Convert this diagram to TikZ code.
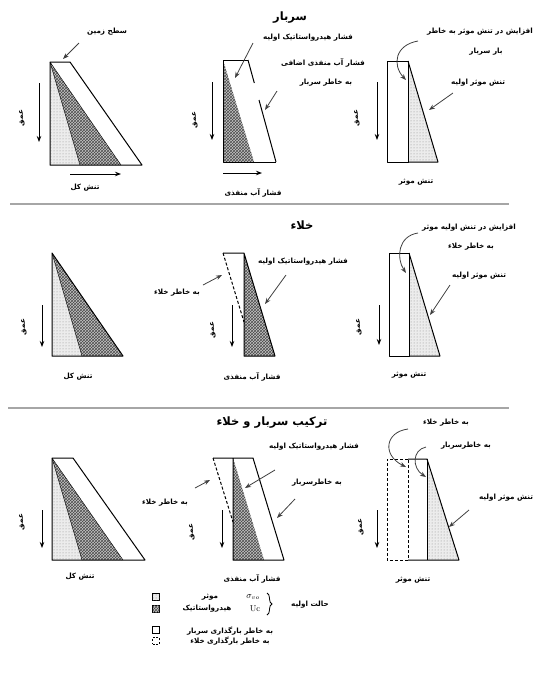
\documentclass[tikz,border=0pt]{standalone}
\usepackage{fontspec}
\newfontfamily\fa[Script=Arabic]{DejaVu Sans}
\TeXXeTstate=1
\usetikzlibrary{arrows.meta,patterns,decorations.pathreplacing}
\newcommand{\fat}[1]{\beginR #1\endR}

\begin{document}
\begin{tikzpicture}[x=1pt,y=-1pt,
    lbl/.style={font=\fontsize{7.2}{9}\fa\bfseries,inner sep=1pt},
    ttl/.style={font=\fontsize{11.5}{13}\fa\bfseries,inner sep=1pt},
    edge/.style={line width=1pt,line join=round},
    dsh/.style={line width=1pt,dashed,dash pattern=on 3pt off 2pt},
    eff/.style={fill=gray!15,postaction={pattern=dots,pattern color=gray!90}},
    hyd/.style={fill=gray!45,postaction={pattern=crosshatch,pattern color=black!70}},
    ptr/.style={-{Stealth[length=6pt,width=4.5pt]},line width=0.8pt,black!75},
    dep/.style={-{Stealth[length=6pt,width=4.5pt]},line width=0.9pt},
    sep/.style={line width=1.8pt,gray!70},
    legsq/.style={draw,line width=0.6pt,minimum size=6.5pt,inner sep=0pt},
  ]
  \useasboundingbox (0,0) rectangle (536,697);
  \clip (0,0) rectangle (536,697);

  % ---------- overburden
  \node[ttl] (t1) at (290,18) {\fat{سربار}};

  % total stress
  \path[eff] (50,62) -- (80,165) -- (50,165) -- cycle;
  \path[hyd] (50,62) -- (121,165) -- (80,165) -- cycle;
  \draw[edge] (50,62) -- (70,62) -- (142,165) -- (50,165) -- cycle;
  \draw (50,62) -- (80,165) (50,62) -- (121,165);
  \node[lbl] (l1) at (107,32) {\fat{سطح زمین}};
  \coordinate (l1s) at (79,43); \coordinate (l1e) at (63,59);
  \draw[ptr] (l1s) -- (l1e);
  \coordinate (d1s) at (39,83); \coordinate (d1e) at (39,142);
  \draw[dep] (d1s) -- (d1e);
  \node[lbl,rotate=90] (d1) at (22,118) {\fat{عمق}};
  \coordinate (h1s) at (70,174); \coordinate (h1e) at (121,174);
  \draw[dep] (h1s) -- (h1e);
  \node[lbl] (x1) at (85,188) {\fat{تنش کل}};

  % pore pressure
  \path[hyd] (223,60) -- (254,162) -- (223,162) -- cycle;
  \draw[edge] (248,60) -- (223,60) -- (223,162) -- (276,162);
  \draw[edge] (248,60) -- (254.3,83) (259,100) -- (276,162);
  \node[lbl] (l2a) at (308,38) {\fat{فشار هیدرواستاتیک اولیه}};
  \coordinate (l2as) at (253,43); \coordinate (l2ae) at (235,78);
  \draw[ptr] (l2as) -- (l2ae);
  \node[lbl] (l2b) at (323,63) {\fat{فشار آب منفذی اضافی}};
  \node[lbl] (l2c) at (326,83) {\fat{به خاطر سربار}};
  \coordinate (l2cs) at (277,91); \coordinate (l2ce) at (265,110);
  \draw[ptr] (l2cs) -- (l2ce);
  \coordinate (d2s) at (212,82); \coordinate (d2e) at (212,140);
  \draw[dep] (d2s) -- (d2e);
  \node[lbl,rotate=90] (d2) at (195,120) {\fat{عمق}};
  \coordinate (h2s) at (223,173); \coordinate (h2e) at (262,173);
  \draw[dep] (h2s) -- (h2e);
  \node[lbl] (x2) at (253,193) {\fat{فشار آب منفذی}};

  % effective stress
  \path[eff] (408,61) -- (438,162) -- (408,162) -- cycle;
  \draw[edge] (387,61) rectangle (408,162);
  \draw[edge] (408,61) -- (438,162) -- (408,162);
  \node[lbl,anchor=east] (l3a) at (534,32) {\fat{افزایش در تنش موثر به خاطر}};
  \node[lbl] (l3b) at (486,52) {\fat{بار سربار}};
  \coordinate (l3as) at (418,41); \coordinate (l3ae) at (406,80);
  \draw[ptr] (l3as) .. controls (395,45) and (392,65) .. (l3ae);
  \node[lbl] (l3c) at (478,83) {\fat{تنش موثر اولیه}};
  \coordinate (l3cs) at (453,93); \coordinate (l3ce) at (429,110);
  \draw[ptr] (l3cs) -- (l3ce);
  \coordinate (d3s) at (377,82); \coordinate (d3e) at (377,140);
  \draw[dep] (d3s) -- (d3e);
  \node[lbl,rotate=90] (d3) at (357,118) {\fat{عمق}};
  \node[lbl] (x3) at (416,182) {\fat{تنش موثر}};

  \draw[sep] (10,204) -- (509,204);

  % ---------- excavation
  \node[ttl] (t2) at (302,225) {\fat{خلاء}};

  % total stress
  \path[eff] (52,253) -- (82,356) -- (52,356) -- cycle;
  \path[hyd] (52,253) -- (123,356) -- (82,356) -- cycle;
  \draw[edge] (52,253) -- (123,356) -- (52,356) -- cycle;
  \draw (52,253) -- (82,356);
  \coordinate (d4s) at (42,305); \coordinate (d4e) at (42,347);
  \draw[dep] (d4s) -- (d4e);
  \node[lbl,rotate=90] (d4) at (24,327) {\fat{عمق}};
  \node[lbl] (x4) at (78,377) {\fat{تنش کل}};

  % pore pressure
  \path[hyd] (244,253) -- (275,356) -- (244,356) -- cycle;
  \draw[edge] (223,253) -- (244,253) -- (244,356) -- (275,356) -- (244,253);
  \draw[dsh] (223,253) -- (244,322);
  \node[lbl] (l5a) at (303,262) {\fat{فشار هیدرواستاتیک اولیه}};
  \coordinate (l5as) at (286,275); \coordinate (l5ae) at (265,304);
  \draw[ptr] (l5as) -- (l5ae);
  \node[lbl] (l5b) at (177,293) {\fat{به خاطر خلاء}};
  \coordinate (l5bs) at (203,285); \coordinate (l5be) at (222,275);
  \draw[ptr] (l5bs) -- (l5be);
  \coordinate (d5s) at (232,305); \coordinate (d5e) at (232,347);
  \draw[dep] (d5s) -- (d5e);
  \node[lbl,rotate=90] (d5) at (213,330) {\fat{عمق}};
  \node[lbl] (x5) at (252,377) {\fat{فشار آب منفذی}};

  % effective stress
  \path[eff] (409,253) -- (440,356) -- (409,356) -- cycle;
  \draw[edge] (389,253) rectangle (409,356);
  \draw[edge] (409,253) -- (440,356) -- (409,356);
  \node[lbl] (l6a) at (469,228) {\fat{افزایش در تنش اولیه موثر}};
  \node[lbl] (l6b) at (471,247) {\fat{به خاطر خلاء}};
  \coordinate (l6as) at (418,233); \coordinate (l6ae) at (406,273);
  \draw[ptr] (l6as) .. controls (398,236) and (396,258) .. (l6ae);
  \node[lbl] (l6c) at (479,276) {\fat{تنش موثر اولیه}};
  \coordinate (l6cs) at (450,285); \coordinate (l6ce) at (430,315);
  \draw[ptr] (l6cs) -- (l6ce);
  \coordinate (d6s) at (379,305); \coordinate (d6e) at (379,345);
  \draw[dep] (d6s) -- (d6e);
  \node[lbl,rotate=90] (d6) at (359,327) {\fat{عمق}};
  \node[lbl] (x6) at (409,375) {\fat{تنش موثر}};

  \draw[sep] (8,408) -- (509,408);

  % ---------- both
  \node[ttl] (t3) at (272,423) {\fat{ترکیب سربار و خلاء}};

  % total stress
  \path[eff] (52,458) -- (82,560) -- (52,560) -- cycle;
  \path[hyd] (52,458) -- (123,560) -- (82,560) -- cycle;
  \draw[edge] (52,458) -- (73,458) -- (145,560) -- (52,560) -- cycle;
  \draw (52,458) -- (82,560) (52,458) -- (123,560);
  \coordinate (d7s) at (42,510); \coordinate (d7e) at (42,548);
  \draw[dep] (d7s) -- (d7e);
  \node[lbl,rotate=90] (d7) at (22,522) {\fat{عمق}};
  \node[lbl] (x7) at (80,577) {\fat{تنش کل}};

  % pore pressure
  \path[hyd] (233,458) -- (264,560) -- (233,560) -- cycle;
  \draw[edge] (213,458) -- (253,458) -- (284,560) -- (233,560) -- (233,458);
  \draw[dsh] (213,458) -- (233,522);
  \node[lbl] (l8a) at (314,447) {\fat{فشار هیدرواستاتیک اولیه}};
  \coordinate (l8as) at (275,470); \coordinate (l8ae) at (245,488);
  \draw[ptr] (l8as) -- (l8ae);
  \node[lbl] (l8b) at (317,483) {\fat{به خاطرسربار}};
  \coordinate (l8bs) at (295,499); \coordinate (l8be) at (277,518);
  \draw[ptr] (l8bs) -- (l8be);
  \node[lbl] (l8c) at (165,503) {\fat{به خاطر خلاء}};
  \coordinate (l8cs) at (195,488); \coordinate (l8ce) at (210,480);
  \draw[ptr] (l8cs) -- (l8ce);
  \coordinate (d8s) at (222,510); \coordinate (d8e) at (222,548);
  \draw[dep] (d8s) -- (d8e);
  \node[lbl,rotate=90] (d8) at (192,532) {\fat{عمق}};
  \node[lbl] (x8) at (252,579) {\fat{فشار آب منفذی}};

  % effective stress
  \path[eff] (427,459) -- (459,560) -- (427,560) -- cycle;
  \draw[dsh] (408,459) -- (387,459) -- (387,560) -- (408,560) -- cycle;
  \draw[edge] (408,459) -- (427,459) -- (459,560) -- (408,560);
  \draw[edge] (427,459) -- (427,560);
  \node[lbl] (l9a) at (446,423) {\fat{به خاطر خلاء}};
  \coordinate (l9as) at (408,429); \coordinate (l9ae) at (406,467);
  \draw[ptr] (l9as) .. controls (385,432) and (382,455) .. (l9ae);
  \node[lbl] (l9b) at (466,446) {\fat{به خاطرسربار}};
  \coordinate (l9bs) at (426,447); \coordinate (l9be) at (426,477);
  \draw[ptr] (l9bs) .. controls (412,450) and (412,468) .. (l9be);
  \node[lbl] (l9c) at (506,498) {\fat{تنش موثر اولیه}};
  \coordinate (l9cs) at (469,510); \coordinate (l9ce) at (449,527);
  \draw[ptr] (l9cs) -- (l9ce);
  \coordinate (d9s) at (377,510); \coordinate (d9e) at (377,548);
  \draw[dep] (d9s) -- (d9e);
  \node[lbl,rotate=90] (d9) at (361,527) {\fat{عمق}};
  \node[lbl] (x9) at (413,580) {\fat{تنش موثر}};

  % ---------- legend
  \node[legsq,eff] (k1) at (156,597) {};
  \node[legsq,hyd] (k2) at (156,609) {};
  \node[legsq] (k3) at (156,630) {};
  \node[legsq,dashed,dash pattern=on 2pt off 1.5pt] (k4) at (156,641) {};
  \node[lbl] (k1t) at (210,597) {\fat{موثر}};
  \node[font=\fontsize{9}{10}\selectfont,inner sep=1pt] (k1s) at (253,597) {$\sigma_{vo}$};
  \node[lbl] (k2t) at (207,609) {\fat{هیدرواستاتیک}};
  \node[font=\fontsize{8.5}{10}\selectfont,inner sep=1pt] (k2s) at (255,609) {Uc};
  \draw[decorate,decoration={brace,amplitude=5pt},line width=0.8pt] (267,593) -- (267,615);
  \node[lbl] (k0) at (310,605) {\fat{حالت اولیه}};
  \node[lbl] (k3t) at (230,631) {\fat{به خاطر بارگذاری سربار}};
  \node[lbl] (k4t) at (230,641) {\fat{به خاطر بارگذاری خلاء}};
\end{tikzpicture}
\end{document}
